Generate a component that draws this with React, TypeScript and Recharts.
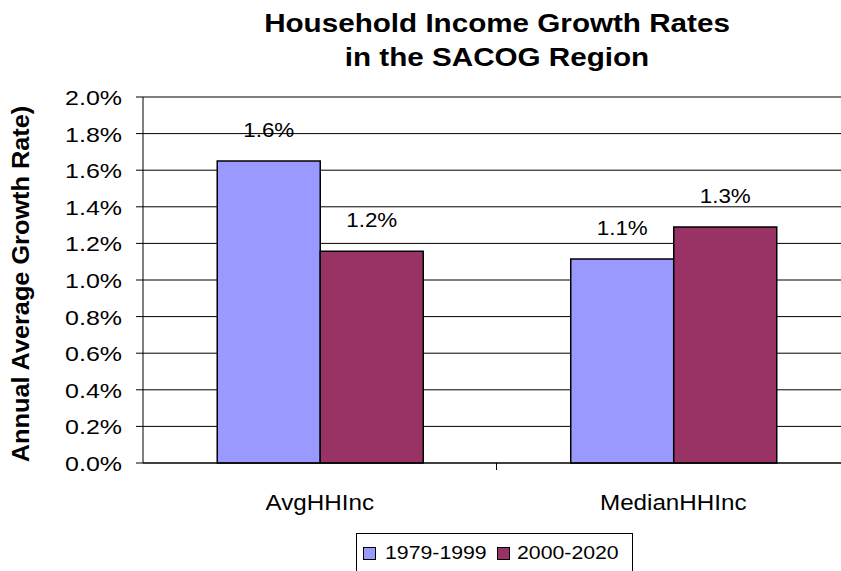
import { Bar, BarChart, CartesianGrid, LabelList, XAxis, YAxis } from 'recharts'

const CATEGORIES = ['AvgHHInc', 'MedianHHInc']
const SERIES_NAMES = ['1979-1999', '2000-2020']
const SERIES_COLORS = ['#9999FF', '#993366']
const VALUES_1979 = [1.65, 1.115]
const VALUES_2000 = [1.157, 1.29]
const LABELS_1979 = ['1.6%', '1.1%']
const LABELS_2000 = ['1.2%', '1.3%']
const Y_TICKS = [0, 0.2, 0.4, 0.6, 0.8, 1.0, 1.2, 1.4, 1.6, 1.8, 2.0]

const FONT = '"Liberation Sans", Arial, sans-serif'

const data = CATEGORIES.map((name, i) => ({
  name,
  early: VALUES_1979[i],
  late: VALUES_2000[i],
  earlyLabel: LABELS_1979[i],
  lateLabel: LABELS_2000[i],
}))

const CHART_W = 850
const CHART_H = 571
const Y_AXIS_W = 143

// excel text here is rendered a little wider than liberation sans, so stretch it slightly
function Stretch({ x, y, sx = 1.1, size, bold, anchor = 'middle', rotate, children }: any) {
  return (
    <text
      transform={`translate(${x} ${y})${rotate ? ' rotate(-90)' : ''} scale(${sx} 1)`}
      textAnchor={anchor}
      fontSize={size}
      fontWeight={bold ? 'bold' : 'normal'}
      fontFamily={FONT}
      fill="#000"
    >
      {children}
    </text>
  )
}

function YTick({ y, payload }: any) {
  return (
    <Stretch x={122} y={y + 8} size={21} sx={1.19} anchor="end">
      {payload.value.toFixed(1) + '%'}
    </Stretch>
  )
}

function XTick({ x, y, payload, index }: any) {
  const band = (CHART_W - Y_AXIS_W) / CATEGORIES.length
  return (
    <g>
      {index < CATEGORIES.length - 1 && (
        <line x1={x + band / 2} x2={x + band / 2} y1={y - 8} y2={y - 1} stroke="#000" />
      )}
      <Stretch x={x} y={510} size={22} sx={1.1}>
        {payload.value}
      </Stretch>
    </g>
  )
}

function BarLabel({ x, y, width, value }: any) {
  return (
    <Stretch x={x + width / 2} y={y - 24} size={20} sx={1.12}>
      {value}
    </Stretch>
  )
}

export default function App() {
  return (
    <div style={{ position: 'absolute', left: 0, top: 0, width: 841, height: CHART_H, overflow: 'hidden', background: '#fff' }}>
      <BarChart
        width={CHART_W}
        height={CHART_H}
        data={data}
        margin={{ top: 97, right: 0, bottom: 68, left: 0 }}
        barCategoryGap="21%"
        barGap={0}
      >
        <CartesianGrid vertical={false} stroke="#000" strokeWidth={1} />
        <XAxis
          dataKey="name"
          height={40}
          stroke="#000"
          tickLine={false}
          tick={<XTick />}
          interval={0}
        />
        <YAxis
          width={Y_AXIS_W}
          domain={[0, 2]}
          ticks={Y_TICKS}
          interval={0}
          stroke="#000"
          tickSize={7}
          tick={<YTick />}
        />
        <Bar dataKey="early" name={SERIES_NAMES[0]} fill={SERIES_COLORS[0]} stroke="#000" strokeWidth={1.5} isAnimationActive={false}>
          <LabelList dataKey="earlyLabel" content={<BarLabel />} />
        </Bar>
        <Bar dataKey="late" name={SERIES_NAMES[1]} fill={SERIES_COLORS[1]} stroke="#000" strokeWidth={1.5} isAnimationActive={false}>
          <LabelList dataKey="lateLabel" content={<BarLabel />} />
        </Bar>
      </BarChart>

      <svg width={841} height={CHART_H} style={{ position: 'absolute', left: 0, top: 0, pointerEvents: 'none' }}>
        <Stretch x={497} y={32} size={26} bold sx={1.14}>
          Household Income Growth Rates
        </Stretch>
        <Stretch x={497} y={66} size={26} bold sx={1.14}>
          in the SACOG Region
        </Stretch>
        <Stretch x={29} y={284} size={23} bold sx={1.1} rotate>
          Annual Average Growth Rate)
        </Stretch>

        <rect x={356.5} y={533.5} width={276} height={50} fill="#fff" stroke="#000" />
        {SERIES_NAMES.map((name, i) => (
          <g key={name}>
            <rect x={363.5 + i * 134} y={547.5} width={12} height={12} fill={SERIES_COLORS[i]} stroke="#000" />
            <Stretch x={385 + i * 132} y={559} size={19} sx={1.12} anchor="start">
              {name}
            </Stretch>
          </g>
        ))}
      </svg>
    </div>
  )
}
